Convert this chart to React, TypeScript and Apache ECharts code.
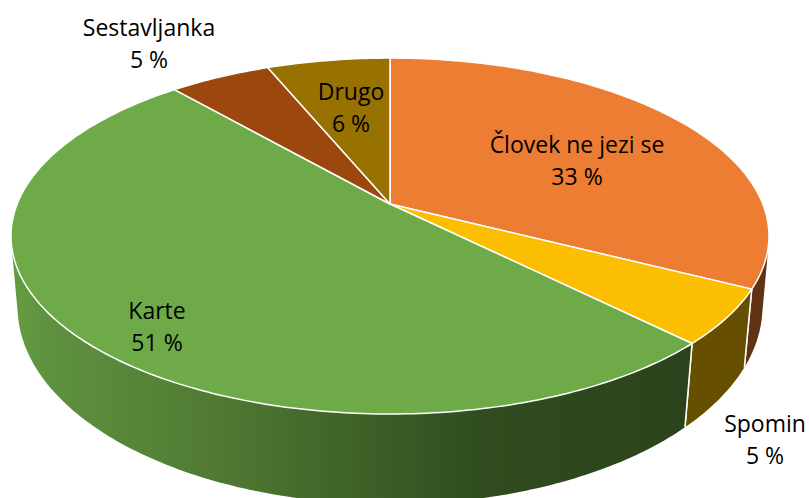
import React, { useEffect, useRef } from "react";
import * as echarts from "echarts";

const categories = ["Človek ne jezi se", "Spomin", "Karte", "Sestavljanka", "Drugo"];
const shares = [32.5, 5, 51.1, 5.15, 6.25];
const topColors = ["#EC7D32", "#FCBE00", "#6EAB48", "#9C470E", "#977200"];
const wallColors = ["#5F3214", "#665000", "", "#3F1D06", "#3D2E00"];
const labelCentres = [
  [577, 160],
  [765, 439],
  [157, 326],
  [149, 43],
  [351, 107],
];

// Perspective projection of the pie's rim: the same circle seen at two heights.
const topFace = { cx: 390, cy: 204, a: 372.8, b: 172.2, p: 0.18 };
const bottomFace = { cx: 390, cy: 273, a: 367, b: 192, p: 0.17 };

function project(f: typeof topFace, pct: number): number[] {
  const t = (pct / 100) * Math.PI * 2;
  const u = Math.sin(t);
  const v = Math.cos(t);
  const w = 1 + f.p * v;
  return [f.cx + (f.a * u) / w, f.cy - (f.b * v) / w];
}

function arc(f: typeof topFace, s: number, e: number): number[][] {
  const n = Math.max(2, Math.ceil((e - s) * 4));
  const pts: number[][] = [];
  for (let i = 0; i <= n; i++) pts.push(project(f, s + ((e - s) * i) / n));
  return pts;
}

function hull(input: number[][]): number[][] {
  const pts = [...input].sort((a, b) => a[0] - b[0] || a[1] - b[1]);
  const cross = (o: number[], a: number[], b: number[]) =>
    (a[0] - o[0]) * (b[1] - o[1]) - (a[1] - o[1]) * (b[0] - o[0]);
  const half = (list: number[][]) => {
    const out: number[][] = [];
    for (const p of list) {
      while (out.length >= 2 && cross(out[out.length - 2], out[out.length - 1], p) <= 0) out.pop();
      out.push(p);
    }
    out.pop();
    return out;
  };
  return [...half(pts), ...half([...pts].reverse())];
}

const ends: number[] = [];
shares.reduce((acc, v, i) => (ends[i] = acc + v), 0);
const starts = ends.map((e, i) => e - shares[i]);

const greenWall = new echarts.graphic.LinearGradient(
  0, 0, 809, 0,
  [
    { offset: 0, color: "#66A043" },
    { offset: 0.06, color: "#5F913F" },
    { offset: 0.25, color: "#527C34" },
    { offset: 0.43, color: "#3F6329" },
    { offset: 0.6, color: "#304C1F" },
    { offset: 0.85, color: "#2B431C" },
    { offset: 1, color: "#2B431C" },
  ],
  true
);

const wallItem = (params: any, api: any) => {
  const i = params.dataIndex;
  const s = api.value(0);
  const e = api.value(1);
  const upper = arc(topFace, s, e);
  const lower = arc(bottomFace, s, e);
  const children: any[] = [
    {
      type: "polygon",
      shape: { points: hull([...upper, ...lower]) },
      style: { fill: i === 2 ? greenWall : wallColors[i] },
    },
  ];
  [0, upper.length - 1].forEach((k) => {
    children.push({
      type: "line",
      shape: { x1: upper[k][0], y1: upper[k][1], x2: lower[k][0], y2: lower[k][1] },
      style: { stroke: "#FFFFFF", lineWidth: 1.5 },
    });
  });
  return { type: "group", children };
};

const topItem = (params: any, api: any) => {
  const i = params.dataIndex;
  const points = [[topFace.cx, topFace.cy], ...arc(topFace, api.value(0), api.value(1))];
  return {
    type: "polygon",
    shape: { points },
    style: { fill: topColors[i], stroke: "#FFFFFF", lineWidth: 1.5, lineJoin: "round" },
  };
};

const labelItem = (params: any, api: any) => {
  const i = params.dataIndex;
  return {
    type: "text",
    x: labelCentres[i][0],
    y: labelCentres[i][1],
    style: {
      text: `${categories[i]}\n${Math.round(api.value(1) - api.value(0))} %`,
      fill: "#000000",
      font: '23px "Open Sans", sans-serif',
      lineHeight: 32,
      align: "center",
      verticalAlign: "middle",
    },
  };
};

const sliceData = categories.map((name, i) => ({ name, value: [starts[i], ends[i]] }));

export default function App() {
  const ref = useRef<HTMLDivElement>(null);
  useEffect(() => {
    document.body.style.margin = "0";
    document.body.style.overflow = "hidden";
    const chart = echarts.init(ref.current!, null, { renderer: "svg" });
    chart.setOption({
      animation: false,
      backgroundColor: "#FFFFFF",
      series: [
        { type: "custom", coordinateSystem: "none", silent: true, renderItem: wallItem, data: sliceData, z: 1 },
        { type: "custom", coordinateSystem: "none", silent: true, renderItem: topItem, data: sliceData, z: 2 },
        { type: "custom", coordinateSystem: "none", silent: true, renderItem: labelItem, data: sliceData, z: 3 },
      ],
    });
    return () => chart.dispose();
  }, []);
  return <div ref={ref} style={{ width: 809, height: 498 }} />;
}
